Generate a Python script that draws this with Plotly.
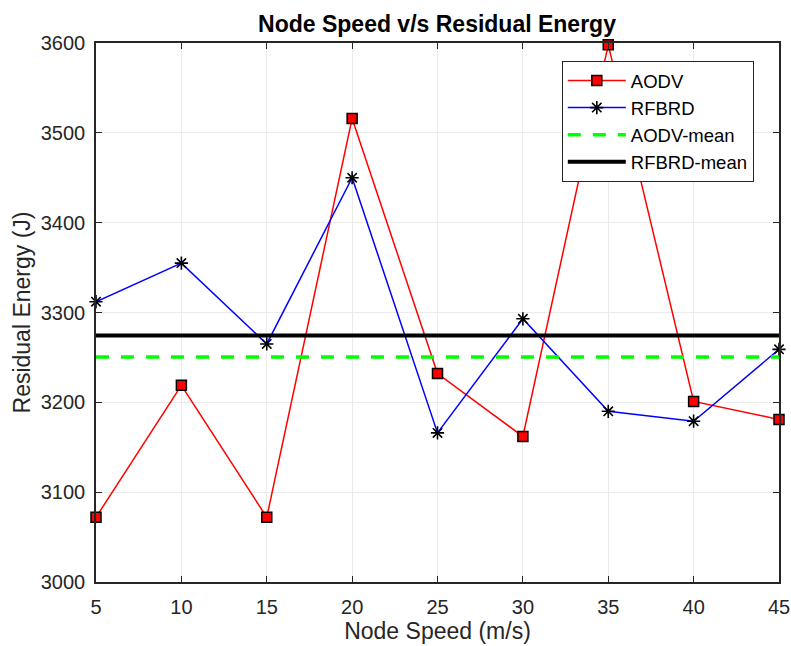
import numpy as np
import plotly.graph_objects as go

node_speed = [5, 10, 15, 20, 25, 30, 35, 40, 45]
aodv = [3072, 3219, 3072, 3516, 3232, 3162, 3598, 3201, 3181]
rfbrd = [3312, 3355, 3265, 3450, 3166, 3293, 3190, 3179, 3259]
x_ticks = [5, 10, 15, 20, 25, 30, 35, 40, 45]
y_ticks = [3000, 3100, 3200, 3300, 3400, 3500, 3600]

aodv_mean = float(np.mean(aodv))
rfbrd_mean = float(np.mean(rfbrd))

FONT = "Liberation Sans, Arial, sans-serif"
fig = go.Figure()
fig.add_trace(go.Scatter(
    x=node_speed, y=aodv, name="AODV", mode="lines+markers",
    line=dict(color="#FF0000", width=1.5),
    marker=dict(symbol="square", size=10, color="#FF0000",
                line=dict(color="#000000", width=1.5)),
    cliponaxis=False))
fig.add_trace(go.Scatter(
    x=node_speed, y=rfbrd, name="RFBRD", mode="lines+markers",
    line=dict(color="#0000FF", width=1.5),
    marker=dict(symbol="asterisk-open", size=11, color="#000000",
                line=dict(color="#000000", width=1.6)),
    cliponaxis=False))
fig.add_trace(go.Scatter(
    x=[node_speed[0], node_speed[-1]], y=[aodv_mean, aodv_mean],
    name="AODV-mean", mode="lines",
    line=dict(color="#00FF00", width=3.5, dash="13px,12px")))
fig.add_trace(go.Scatter(
    x=[node_speed[0], node_speed[-1]], y=[rfbrd_mean, rfbrd_mean],
    name="RFBRD-mean", mode="lines",
    line=dict(color="#000000", width=4)))

axis_common = dict(
    showgrid=True, gridcolor="#EBEBEB", gridwidth=1,
    showline=True, linecolor="#262626", linewidth=1.5, mirror="ticks",
    ticks="inside", ticklen=6, tickwidth=1.2, tickcolor="#262626",
    zeroline=False, automargin=False,
    tickfont=dict(family=FONT, size=20, color="#262626"),
)
fig.update_layout(
    width=791, height=646,
    margin=dict(l=96, r=12, t=43, b=64, autoexpand=False),
    paper_bgcolor="white", plot_bgcolor="white",
    title=dict(text="<b>Node Speed v/s Residual Energy</b>", x=0.5525, xanchor="center",
               y=0.963, yanchor="middle", automargin=False,
               font=dict(family=FONT, size=23, color="#000000")),
    xaxis=dict(range=[5, 45], tickvals=x_ticks, ticklabelstandoff=6,
               title=dict(text="Node Speed (m/s)", standoff=5,
                          font=dict(family=FONT, size=23, color="#262626")),
               **axis_common),
    yaxis=dict(range=[3000, 3600], tickvals=y_ticks, ticklabelstandoff=5,
               title=dict(text="Residual Energy (J)", standoff=4,
                          font=dict(family=FONT, size=23, color="#262626")),
               **axis_common),
    legend=dict(x=0.682, y=0.9666, xanchor="left", yanchor="top",
                bgcolor="white", bordercolor="#262626", borderwidth=1,
                font=dict(family=FONT, size=18.5, color="#000000"),
                tracegroupgap=0, itemwidth=58),
    showlegend=True,
)
fig.write_html(
    "out.html",
    config={"displayModeBar": False},
    post_script="document.body.style.margin='0';document.body.style.overflow='hidden';",
)
